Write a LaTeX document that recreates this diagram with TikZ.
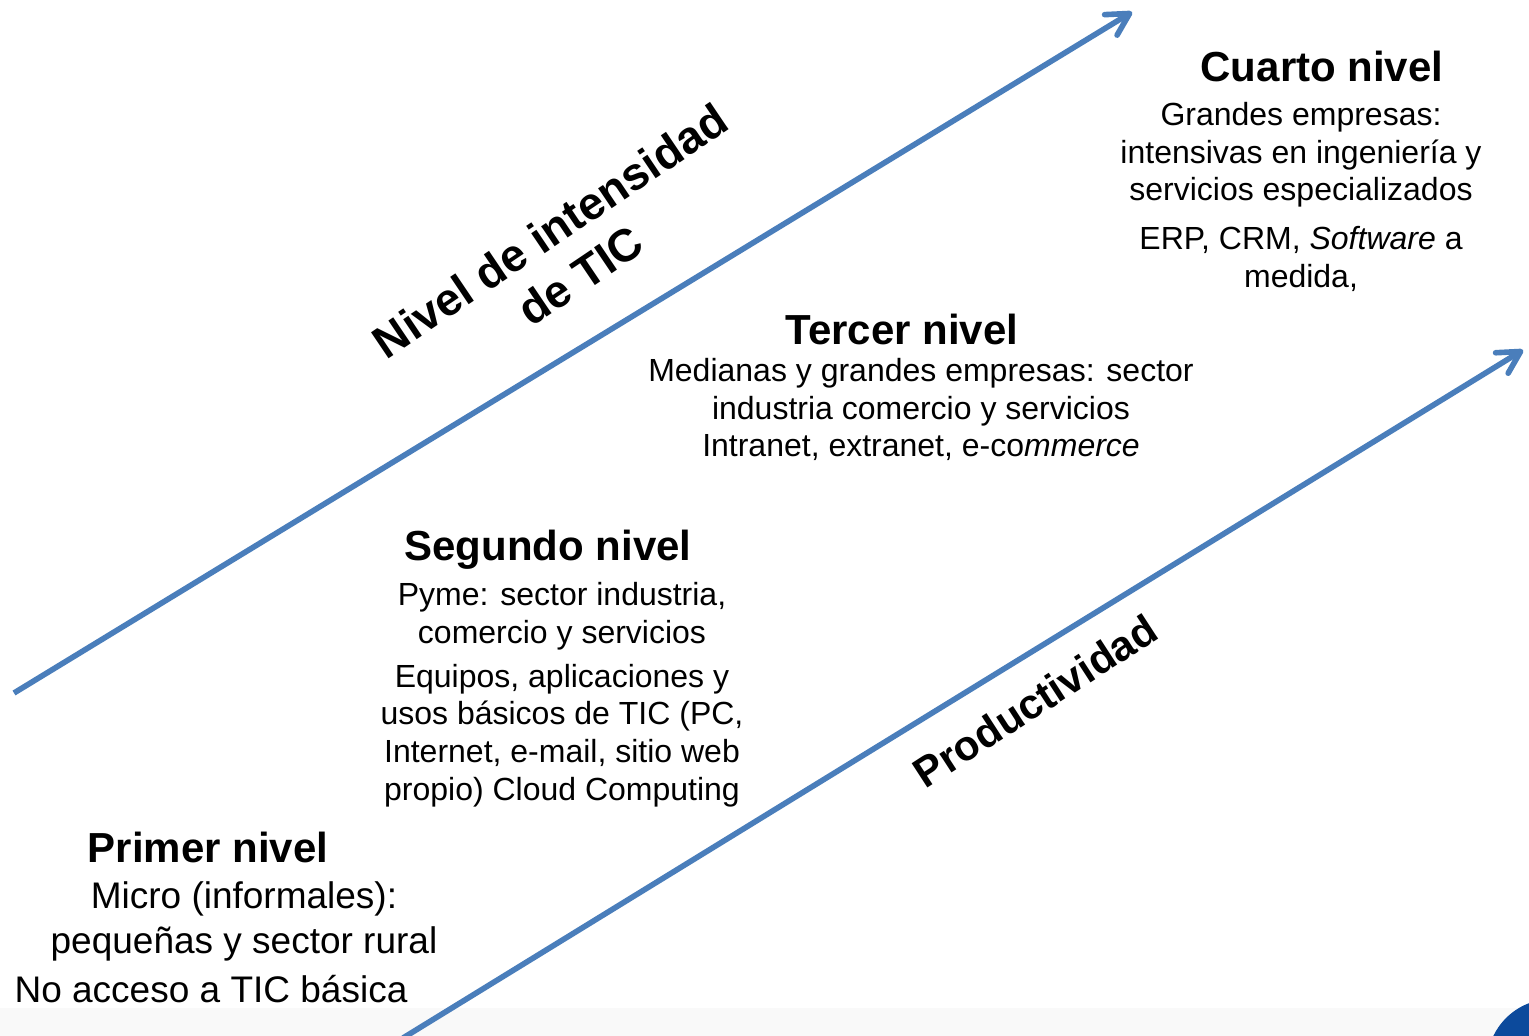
\documentclass[tikz,border=0pt]{standalone}
\usepackage{fontspec}
\setmainfont{Liberation Sans}
\usetikzlibrary{arrows.meta}
\definecolor{arrowblue}{RGB}{74,126,187}
\definecolor{cornerblue}{RGB}{12,74,156}
\definecolor{bandgray}{RGB}{249,249,249}
\begin{document}
\begin{tikzpicture}[x=0.5pt,y=-0.5pt,
  leveltitle/.style={font=\fontsize{21}{25}\selectfont\bfseries, anchor=base, inner sep=0pt},
  levelbody/.style={font=\fontsize{16}{18.9}\selectfont, align=center, anchor=north, inner sep=0pt},
  bigbody/.style={font=\fontsize{18.5}{22.5}\selectfont, align=center, anchor=north, inner sep=0pt},
  axislabel/.style={font=\fontsize{22.8}{27}\selectfont\bfseries, align=center, inner sep=0pt},
  trend/.style={draw=arrowblue, line width=2.8pt,
    -{Straight Barb[length=11pt,width=12pt,line cap=round,line join=round]}}
]
\useasboundingbox (0,0) rectangle (1529,1036);
\fill[bandgray] (0,1008) rectangle (1529,1036);
\begin{scope}
  \clip (0,0) rectangle (1529,1036);
  \fill[cornerblue] (1552,1064) circle (65);
\end{scope}

% arrows
\coordinate (s1) at (14,693);
\coordinate (e1) at (1132,12);
\coordinate (s2) at (403,1038);
\coordinate (e2) at (1523,350);
\draw[trend] (s1) -- (e1);
\draw[trend] (s2) -- (e2);

% axis labels
\node[axislabel, rotate=34] (lab1) at (565,253) {Nivel de intensidad\\de TIC};
\node[axislabel, rotate=33, font=\fontsize{21}{25}\selectfont\bfseries] (lab2) at (1035,701) {Productividad};

% level 4
\node[leveltitle] (t4) at (1322,82) {Cuarto nivel};
\node[levelbody] (b4) at (1301,99) {\rule{0pt}{13pt}Grandes empresas:\\intensivas en ingeniería y\\servicios especializados\\[5.5pt]ERP, CRM, \textit{Software} a\\medida,};

% level 3
\node[leveltitle] (t3) at (902,345) {Tercer nivel};
\node[levelbody] (b3) at (921,355) {\rule{0pt}{13pt}Medianas y grandes empresas: sector\\industria comercio y servicios\\Intranet, extranet, e-co\textit{mmerce}};

% level 2
\node[leveltitle] (t2) at (548,560) {Segundo nivel};
\node[levelbody] (b2) at (562,579) {\rule{0pt}{13pt}Pyme: sector industria,\\comercio y servicios\\[3pt]Equipos, aplicaciones y\\usos básicos de TIC (PC,\\Internet, e-mail, sitio web\\propio) Cloud Computing};

% level 1
\node[leveltitle] (t1) at (208,862) {Primer nivel};
\node[bigbody] (b1a) at (244,878) {\rule{0pt}{15pt}Micro (informales):\\pequeñas y sector rural};
\node[bigbody] (b1b) at (211,972) {\rule{0pt}{15pt}No acceso a TIC básica};
\end{tikzpicture}
\end{document}
